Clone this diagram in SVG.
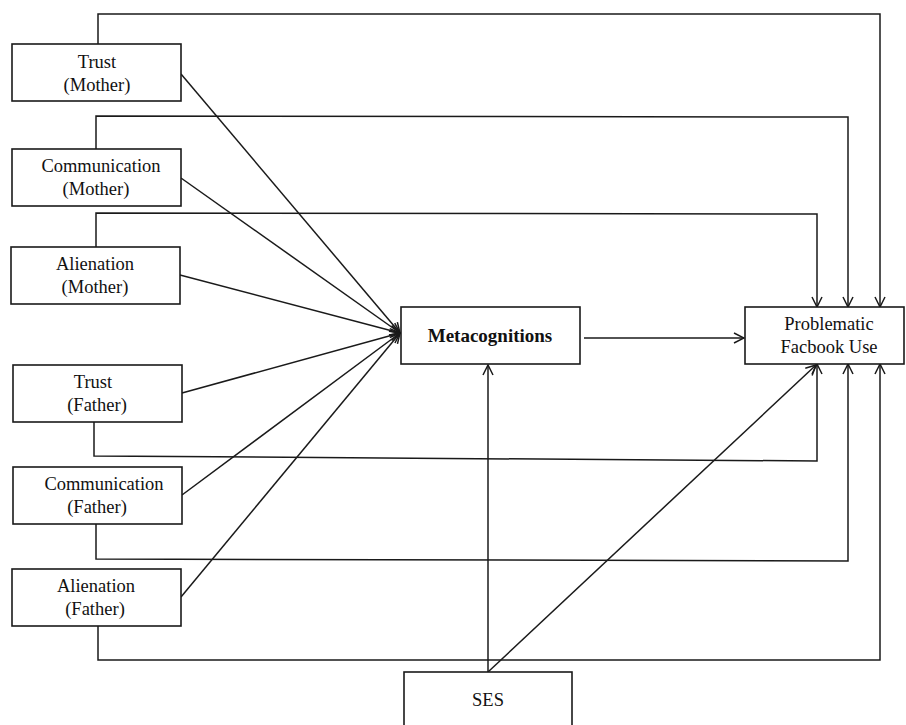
<svg xmlns="http://www.w3.org/2000/svg" width="906" height="725" viewBox="0 0 906 725">
<defs>
<marker id="arr" viewBox="0 0 12 12" refX="11" refY="6" markerWidth="12" markerHeight="12" markerUnits="userSpaceOnUse" orient="auto">
<path d="M1,1 L11,6 L1,11" fill="none" stroke="#1a1a1a" stroke-width="1.5"/>
</marker>
<style>
.box{fill:#fff;stroke:#1a1a1a;stroke-width:1.6}
.t{font-family:"Liberation Serif","Times New Roman",serif;font-size:18.5px;fill:#111;text-anchor:middle}
.b{font-weight:bold;font-size:19px}
.c{fill:none;stroke:#1a1a1a;stroke-width:1.5}
.a{marker-end:url(#arr)}
</style>
</defs>
<rect width="906" height="725" fill="#fff"/>
<g id="connectors">
<polyline class="c a" points="98,44 98,14 880,14 880,307"/>
<polyline class="c a" points="96,149 96,116 848,117 848,307"/>
<polyline class="c a" points="96,247 96,213 817,214 817,307"/>
<polyline class="c a" points="94,422 94,456 817,461 817,364"/>
<polyline class="c a" points="96,524 96,559 848,561 848,364"/>
<polyline class="c a" points="98,626 98,660 880,660 880,364"/>
<line class="c a" x1="181" y1="74" x2="400" y2="333"/>
<line class="c a" x1="181" y1="178" x2="400" y2="333"/>
<line class="c a" x1="180" y1="275" x2="400" y2="333"/>
<line class="c a" x1="182" y1="393" x2="400" y2="333"/>
<line class="c a" x1="182" y1="495" x2="400" y2="333"/>
<line class="c a" x1="181" y1="597" x2="400" y2="333"/>
<line class="c a" x1="584" y1="338" x2="744" y2="338"/>
<line class="c a" x1="488" y1="672" x2="488" y2="365"/>
<line class="c a" x1="488" y1="672" x2="816" y2="365"/>
</g>
<g id="trust-mother"><rect class="box" x="12" y="44" width="169" height="57"/><text class="t" x="97" y="68">Trust</text><text class="t" x="97" y="91">(Mother)</text></g>
<g id="comm-mother"><rect class="box" x="12" y="149" width="169" height="57"/><text class="t" x="101" y="172">Communication</text><text class="t" x="96" y="195">(Mother)</text></g>
<g id="alien-mother"><rect class="box" x="11" y="247" width="169" height="57"/><text class="t" x="95" y="270">Alienation</text><text class="t" x="95" y="293">(Mother)</text></g>
<g id="trust-father"><rect class="box" x="13" y="365" width="169" height="57"/><text class="t" x="93" y="388">Trust</text><text class="t" x="97" y="411">(Father)</text></g>
<g id="comm-father"><rect class="box" x="13" y="467" width="169" height="57"/><text class="t" x="104" y="490">Communication</text><text class="t" x="97" y="513">(Father)</text></g>
<g id="alien-father"><rect class="box" x="12" y="569" width="169" height="57"/><text class="t" x="96" y="592">Alienation</text><text class="t" x="95" y="615">(Father)</text></g>
<g id="metacognitions"><rect class="box" x="401" y="307" width="179" height="57"/><text class="t b" x="490" y="342">Metacognitions</text></g>
<g id="pfu"><rect class="box" x="745" y="307" width="159" height="57"/><text class="t" x="829" y="330">Problematic</text><text class="t" x="829" y="353">Facbook Use</text></g>
<g id="ses"><rect class="box" x="404" y="672" width="168" height="70"/><text class="t" x="488" y="706">SES</text></g>
</svg>
